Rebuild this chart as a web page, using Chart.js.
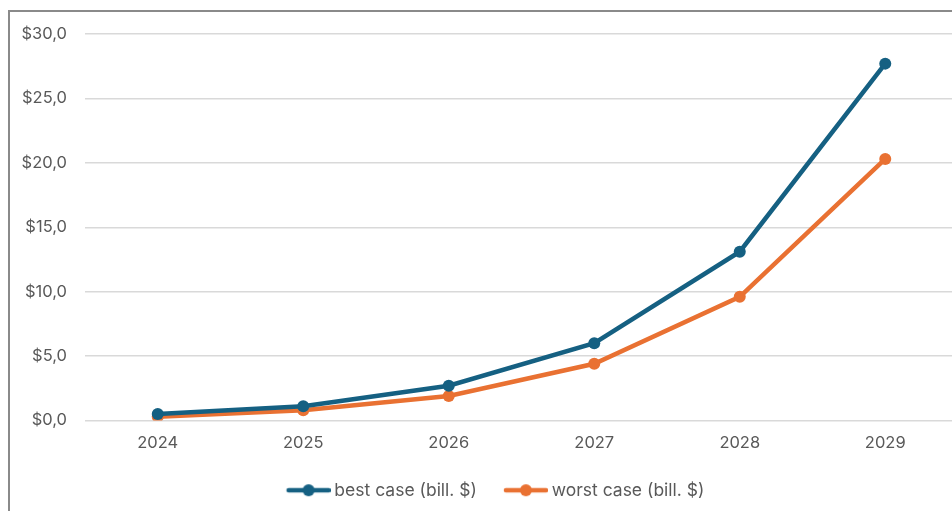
<!DOCTYPE html>
<html>
<head>
<meta charset="utf-8">
<script src="https://cdn.jsdelivr.net/npm/chart.js@4/dist/chart.umd.min.js"></script>
<style>
  html, body { margin: 0; padding: 0; background: #fff; overflow: hidden; }
  body { width: 952px; height: 511px; position: relative; }
  #frame {
    position: absolute; left: 8px; top: 10px; width: 1000px; height: 520px;
    border-left: 2px solid #8a8a8a; border-top: 2px solid #8a8a8a;
  }
  #wrap { position: absolute; left: 0; top: 0; width: 964px; height: 511px; }
</style>
</head>
<body>
<div id="frame"></div>
<div id="wrap"><canvas id="c" width="964" height="511"></canvas></div>
<script>
const years = ['2024', '2025', '2026', '2027', '2028', '2029'];
const bestCase = [0.5, 1.1, 2.7, 6.0, 13.1, 27.7];
const worstCase = [0.3, 0.8, 1.9, 4.4, 9.6, 20.3];
const seriesNames = ['best case (bill. $)', 'worst case (bill. $)'];

const BLUE = '#156082';
const ORANGE = '#E97132';
const FONT = 'Inter, "Open Sans", "Liberation Sans", sans-serif';
const FONT_SIZE = 16.5;
const LEGEND_FONT_SIZE = 17.5;

// legend marker: short line with a dot, pushed to the right end of its box
const MARK_BOX = 56;
function legendMarker(color) {
  const cv = document.createElement('canvas');
  cv.width = MARK_BOX + 10; cv.height = 14;
  const g = cv.getContext('2d');
  g.strokeStyle = color; g.lineWidth = 4.5; g.lineCap = 'round';
  g.beginPath(); g.moveTo(24, 7); g.lineTo(64, 7); g.stroke();
  g.fillStyle = color;
  g.beginPath(); g.arc(44, 7, 6, 0, Math.PI * 2); g.fill();
  return cv;
}

const fmt = v => '$' + v.toFixed(1).replace('.', ',');

new Chart(document.getElementById('c'), {
  type: 'line',
  data: {
    labels: years,
    datasets: [
      { label: seriesNames[0], data: bestCase, borderColor: BLUE, backgroundColor: BLUE,
        borderWidth: 4.5, pointRadius: 6, pointBackgroundColor: BLUE, pointBorderWidth: 0,
        tension: 0 },
      { label: seriesNames[1], data: worstCase, borderColor: ORANGE, backgroundColor: ORANGE,
        borderWidth: 4.5, pointRadius: 6, pointBackgroundColor: ORANGE, pointBorderWidth: 0,
        tension: 0 }
    ]
  },
  options: {
    responsive: false,
    animation: false,
    devicePixelRatio: 1,
    layout: { padding: { left: 10, right: 0, top: 34, bottom: 2 } },
    plugins: {
      tooltip: { enabled: false },
      legend: {
        position: 'bottom',
        labels: {
          usePointStyle: true,
          pointStyleWidth: MARK_BOX,
          boxHeight: 14,
          padding: 10,
          color: '#595959',
          font: { family: FONT, size: LEGEND_FONT_SIZE },
          generateLabels(chart) {
            return chart.data.datasets.map((ds, i) => ({
              text: ds.label, fillStyle: ds.borderColor, strokeStyle: ds.borderColor,
              lineWidth: 0, pointStyle: legendMarker(ds.borderColor), datasetIndex: i,
              fontColor: '#595959'
            }));
          }
        }
      }
    },
    scales: {
      x: {
        offset: true,
        grid: { display: false, drawTicks: false },
        border: { display: false },
        ticks: { color: '#595959', font: { family: FONT, size: FONT_SIZE }, padding: 13 },
        afterFit(s) { s.height = 51; }
      },
      y: {
        min: 0, max: 30,
        grid: { color: '#d9d9d9', lineWidth: 1.5, drawTicks: false },
        border: { display: false },
        ticks: { stepSize: 5, color: '#595959', font: { family: FONT, size: FONT_SIZE }, padding: 18,
                 callback: v => fmt(v) },
        afterFit(s) { s.width = 75; }
      }
    }
  }
});
</script>
</body>
</html>
